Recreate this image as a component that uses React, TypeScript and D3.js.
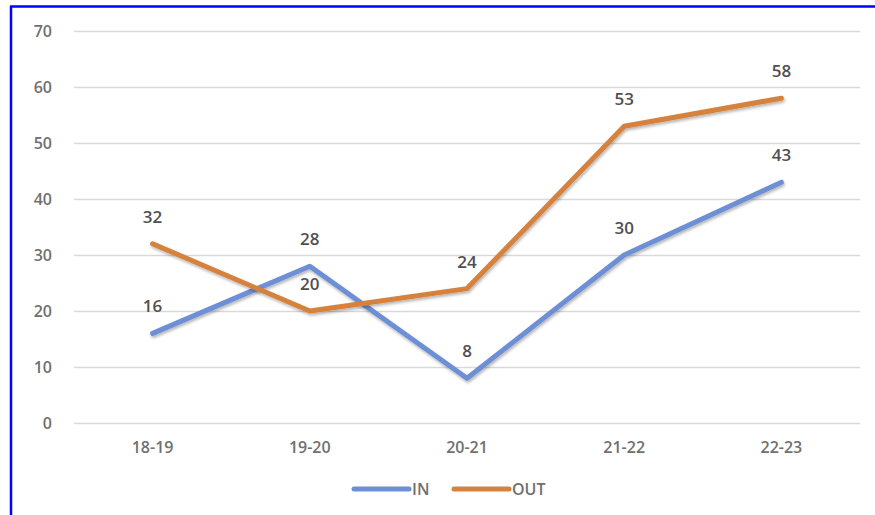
import * as d3 from "d3";
import { useEffect, useRef } from "react";

const categories = ["18-19", "19-20", "20-21", "21-22", "22-23"];
const inValues = [16, 28, 8, 30, 43];
const outValues = [32, 20, 24, 53, 58];
const yTicks = [0, 10, 20, 30, 40, 50, 60, 70];

const series = [
  { name: "IN", values: inValues, color: "#6d8fd5" },
  { name: "OUT", values: outValues, color: "#d6823c" },
];

export default function App() {
  const ref = useRef<SVGSVGElement>(null);

  useEffect(() => {
    if (!ref.current) return;
    const svg = d3.select(ref.current);
    svg.selectAll("*").remove();

    const width = 875;
    const height = 515;
    const font = "'Open Sans', 'DejaVu Sans', sans-serif";

    // blue frame (only top and left visible in the picture)
    svg.append("rect").attr("width", width).attr("height", height).attr("fill", "#fff");
    svg.append("line").attr("x1", 10).attr("x2", width).attr("y1", 6.5).attr("y2", 6.5)
      .attr("stroke", "#0000ff").attr("stroke-width", 2.5);
    svg.append("line").attr("x1", 11).attr("x2", 11).attr("y1", 6).attr("y2", height)
      .attr("stroke", "#0000ff").attr("stroke-width", 2.5);

    const x = d3.scaleBand().domain(categories).range([74, 860]);
    const y = d3.scaleLinear().domain([0, 70]).range([423, 31]);

    const defs = svg.append("defs");
    const f = defs.append("filter").attr("id", "shadow").attr("x", "-10%").attr("y", "-10%")
      .attr("width", "120%").attr("height", "130%");
    f.append("feDropShadow").attr("dx", 1).attr("dy", 2).attr("stdDeviation", 1.5)
      .attr("flood-color", "#000").attr("flood-opacity", 0.3);

    // gridlines
    svg.append("g").selectAll("line").data(yTicks).join("line")
      .attr("x1", 74).attr("x2", 860)
      .attr("y1", (d) => Math.round(y(d)) + 0.5).attr("y2", (d) => Math.round(y(d)) + 0.5)
      .attr("stroke", "#d9d9d9").attr("stroke-width", 1.5);

    // y tick labels
    svg.append("g").selectAll("text").data(yTicks).join("text")
      .attr("x", 52).attr("y", (d) => y(d)).attr("dy", "0.35em")
      .attr("text-anchor", "end").attr("font-family", font).attr("font-size", 16)
      .attr("font-weight", 600).attr("fill", "#707070").text((d) => d);

    // x tick labels
    svg.append("g").selectAll("text").data(categories).join("text")
      .attr("x", (d) => x(d)! + x.bandwidth() / 2).attr("y", 447).attr("dy", "0.35em")
      .attr("text-anchor", "middle").attr("font-family", font).attr("font-size", 16)
      .attr("font-weight", 600).attr("fill", "#707070").text((d) => d);

    const line = d3.line<number>()
      .x((_, i) => x(categories[i])! + x.bandwidth() / 2)
      .y((d) => y(d));

    series.forEach((s) => {
      svg.append("path").datum(s.values).attr("d", line)
        .attr("fill", "none").attr("stroke", s.color).attr("stroke-width", 5)
        .attr("stroke-linejoin", "round").attr("stroke-linecap", "round")
        .attr("filter", "url(#shadow)");
    });

    series.forEach((s) => {
      svg.append("g").selectAll("text").data(s.values).join("text")
        .attr("x", (_, i) => x(categories[i])! + x.bandwidth() / 2)
        .attr("y", (d) => y(d) - 27).attr("dy", "0.35em")
        .attr("text-anchor", "middle").attr("font-family", font).attr("font-size", 17)
        .attr("font-weight", 600).attr("fill", "#505050").text((d) => d);
    });

    // legend
    const legend = svg.append("g").attr("transform", "translate(354,489)");
    let lx = 0;
    series.forEach((s) => {
      legend.append("line").attr("x1", lx).attr("x2", lx + 55).attr("y1", 0).attr("y2", 0)
        .attr("stroke", s.color).attr("stroke-width", 5).attr("stroke-linecap", "round");
      legend.append("text").attr("x", lx + 58).attr("y", 0).attr("dy", "0.35em")
        .attr("font-family", font).attr("font-size", 16).attr("font-weight", 600)
        .attr("fill", "#707070").text(s.name);
      lx += 100;
    });
  }, []);

  return (
    <svg ref={ref} width={875} height={515}
      style={{ position: "absolute", left: 0, top: 0, display: "block" }} />
  );
}
